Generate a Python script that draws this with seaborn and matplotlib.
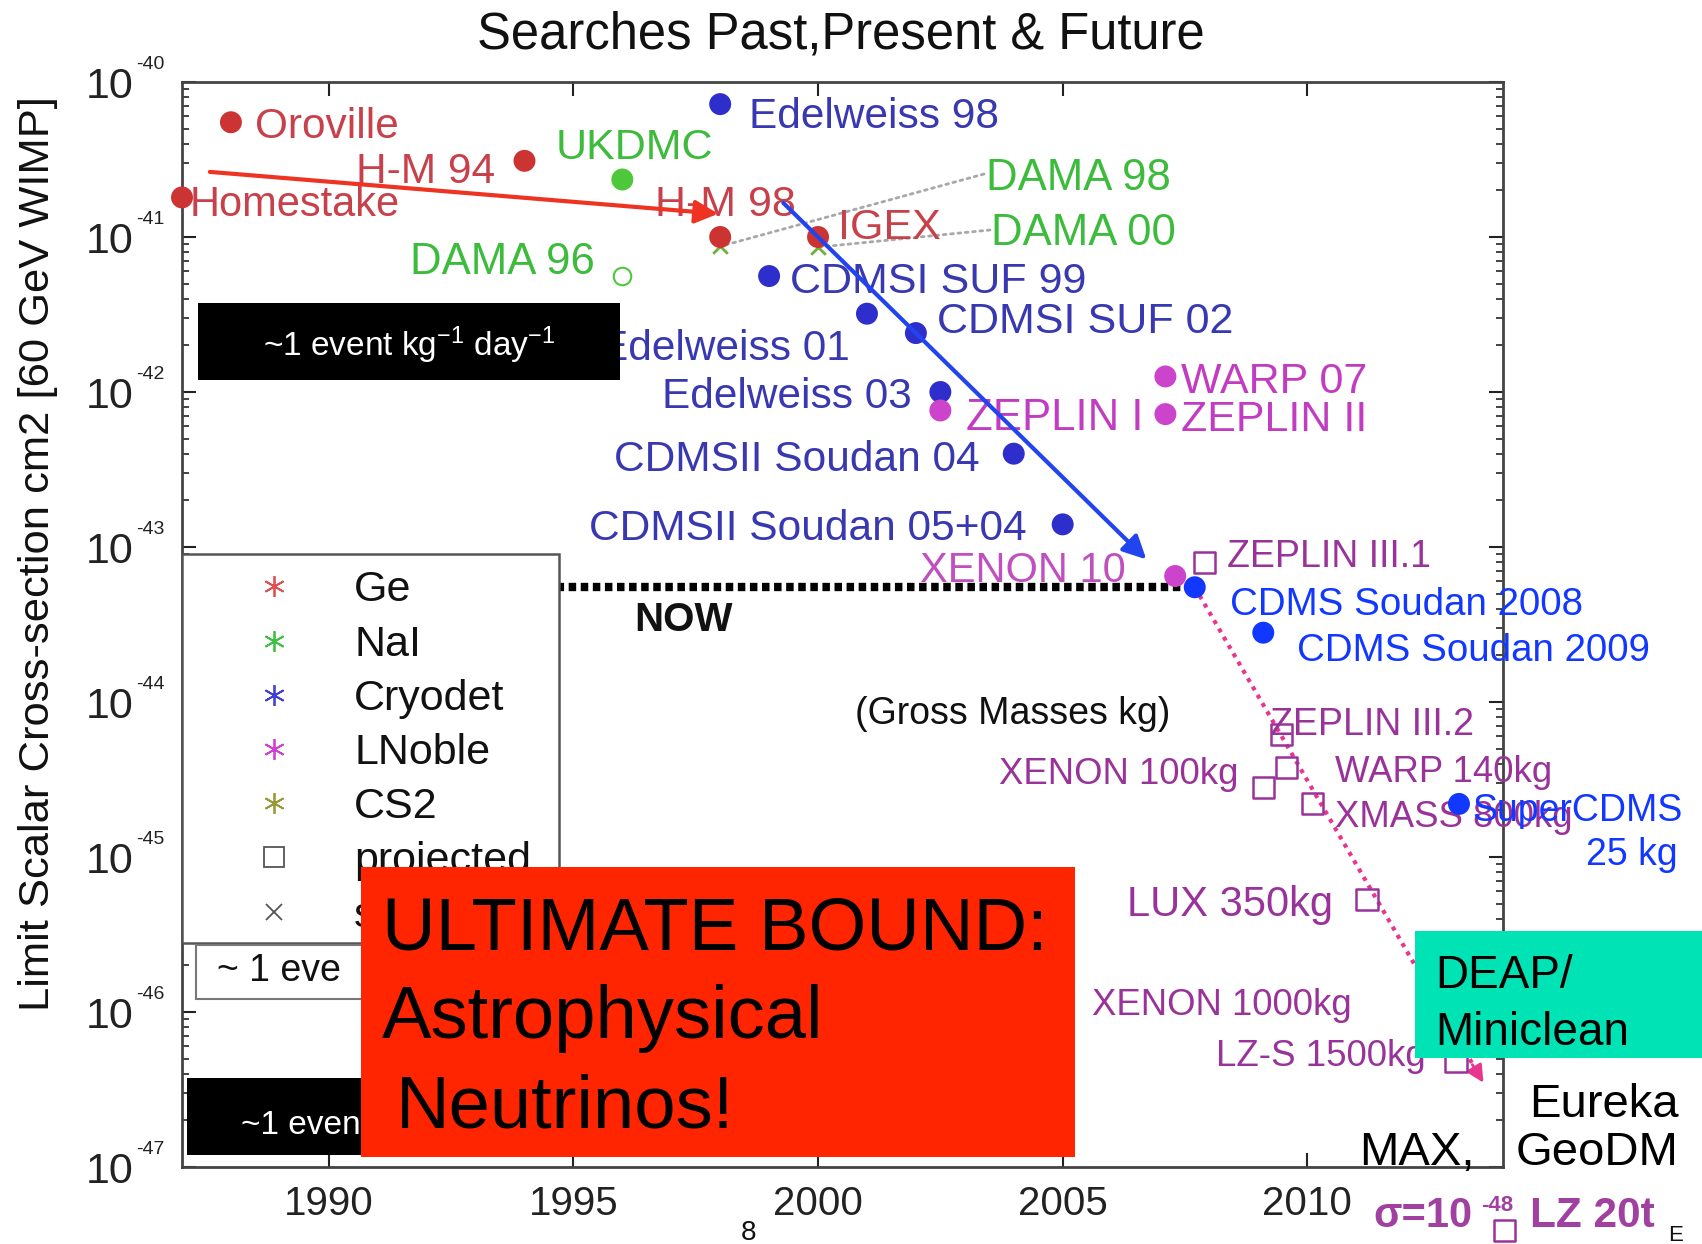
import numpy as np
import pandas as pd
import matplotlib
matplotlib.use("Agg")
import matplotlib.pyplot as plt
import matplotlib.transforms as mtransforms
import matplotlib.ticker as mticker
from matplotlib.patches import Rectangle
from matplotlib.lines import Line2D
import seaborn as sns

# ---------------- data ----------------
exp_names = ["Homestake", "Oroville", "H-M 94", "UKDMC", "H-M 98", "IGEX",
             "Edelweiss 98", "CDMSI SUF 99", "Edelweiss 01", "CDMSI SUF 02",
             "Edelweiss 03", "ZEPLIN I", "WARP 07", "ZEPLIN II",
             "CDMSII Soudan 04", "CDMSII Soudan 05+04", "XENON 10",
             "CDMS Soudan 2008", "CDMS Soudan 2009", "SuperCDMS 25 kg"]
exp_years = [1987.0, 1988.0, 1994.0, 1996.0, 1998.0, 2000.0,
             1998.0, 1999.0, 2001.0, 2002.0,
             2002.5, 2002.5, 2007.1, 2007.1,
             2004.0, 2005.0, 2007.3,
             2007.7, 2009.1, 2013.1]
exp_sigma = [1.8e-41, 5.5e-41, 3.1e-41, 2.35e-41, 1.0e-41, 1.0e-41,
             7.2e-41, 5.6e-42, 3.2e-42, 2.4e-42,
             1.0e-42, 7.6e-43, 1.26e-42, 7.2e-43,
             4.0e-43, 1.4e-43, 6.5e-44,
             5.5e-44, 2.8e-44, 2.2e-45]
exp_family = ["Ge", "Ge", "Ge", "NaI", "Ge", "Ge",
              "Cryodet", "Cryodet", "Cryodet", "Cryodet",
              "Cryodet", "LNoble", "LNoble", "LNoble",
              "Cryodet", "Cryodet", "LNoble",
              "CryodetNew", "CryodetNew", "CryodetNew"]

dama96_years = [1996.0]
dama96_sigma = [5.6e-42]

signal_years = [1998.0, 2000.0]
signal_sigma = [8.7e-42, 8.6e-42]

proj_names = ["ZEPLIN III.1", "ZEPLIN III.2", "WARP 140kg", "XENON 100kg",
              "XMASS 800kg", "LUX 350kg", "XENON 1000kg", "LZ-S 1500kg", "LZ 20t"]
proj_years = [2007.9, 2009.47, 2009.57, 2009.1, 2010.1, 2011.22, 2012.78, 2013.04, 2014.04]
proj_sigma = [7.9e-44, 6.2e-45, 3.8e-45, 2.8e-45, 2.2e-45, 5.3e-46, 1.1e-46, 4.8e-47, 3.9e-48]

# end of the projected-trend arrow
trend_end_year = 2013.6
trend_end_sigma = 3.5e-47

x_ticks = [1990, 1995, 2000, 2005, 2010]
y_decades = [-40, -41, -42, -43, -44, -45, -46, -47]

legend_labels = ["Ge", "NaI", "Cryodet", "LNoble", "CS2", "projected", "signal"]

# ---------------- styling ----------------
sns.set_theme(style="white")
plt.rcParams["font.family"] = ["Liberation Sans", "DejaVu Sans"]
plt.rcParams["mathtext.fontset"] = "custom"
plt.rcParams["mathtext.rm"] = "Liberation Sans"
plt.rcParams["mathtext.it"] = "Liberation Sans:italic"
plt.rcParams["mathtext.bf"] = "Liberation Sans:bold"

fam_colors = {"Ge": "#CC3333", "NaI": "#4DC83A", "Cryodet": "#2E2ECC",
              "CryodetNew": "#1238FF", "LNoble": "#CC44CC"}
RED_T, GREEN_T, BLUE_T = "#C8404A", "#3DBB3D", "#3838B0"
BBLUE_T, MAG_T, PURP_T = "#1238FF", "#C23CC2", "#993399"

W, H = 1702, 1244
fig = plt.figure(figsize=(W / 100, H / 100), dpi=100)
fig.patch.set_facecolor("white")
L, R, T, B = 182, 1503, 82, 1167
ax = fig.add_axes([L / W, 1 - B / H, (R - L) / W, (B - T) / H])
ax.set_yscale("log")
ax.set_xlim(1987.0, 2014.0)
ax.set_ylim(1e-47, 1e-40)

# ---------------- marks ----------------
df = pd.DataFrame({"name": exp_names, "year": exp_years,
                   "sigma": exp_sigma, "family": exp_family})
sns.scatterplot(data=df, x="year", y="sigma", hue="family", palette=fam_colors,
                s=250, edgecolor="none", legend=False, ax=ax, zorder=4, clip_on=False)
sns.scatterplot(x=dama96_years, y=dama96_sigma, marker="o", s=160,
                facecolor="white", edgecolor=fam_colors["NaI"], linewidth=1.5,
                ax=ax, zorder=4, legend=False)
sns.scatterplot(x=signal_years, y=signal_sigma, marker="x", s=110,
                color="#6FAF3A", linewidth=2, ax=ax, zorder=3.5, legend=False)
pdf = pd.DataFrame({"name": proj_names, "year": proj_years, "sigma": proj_sigma})
sns.scatterplot(data=pdf, x="year", y="sigma", marker="s", s=230,
                facecolor="none", edgecolor=PURP_T, linewidth=1.8,
                ax=ax, zorder=4, legend=False, clip_on=False)

# NOW line (level of the CDMS Soudan 2008 limit)
i08 = exp_names.index("CDMS Soudan 2008")
ax.plot([1987.0, exp_years[i08]], [exp_sigma[i08]] * 2, color="black", lw=6,
        linestyle=(0, (0.9, 0.55)), zorder=3)

# trend arrows
ax.annotate("", xy=(1997.96, 10 ** -40.85), xytext=(1987.57, 10 ** -40.58),
            arrowprops=dict(arrowstyle="-|>", color="#EE3322", lw=3,
                            mutation_scale=35, shrinkA=0, shrinkB=0), zorder=6)
ax.annotate("", xy=(2006.71, 10 ** -43.08), xytext=(1999.29, 10 ** -40.78),
            arrowprops=dict(arrowstyle="-|>", color="#2244EE", lw=3,
                            mutation_scale=35, shrinkA=0, shrinkB=0), zorder=6)
# projected trend: dotted line + solid head
ax.plot([exp_years[i08], trend_end_year], [exp_sigma[i08], trend_end_sigma],
        color="#E8358F", lw=3, linestyle=(0, (1, 1.3)), zorder=3)
ax.annotate("", xy=(trend_end_year, trend_end_sigma), xycoords="data",
            xytext=(-8, 13), textcoords="offset points",
            arrowprops=dict(arrowstyle="-|>", color="#E8358F", lw=2,
                            mutation_scale=26, shrinkA=0, shrinkB=0), zorder=3)
# dotted leaders to DAMA labels
ax.annotate("", xy=(signal_years[0], signal_sigma[0]), xycoords="data",
            xytext=(984 / W, 1 - 174 / H), textcoords="figure fraction",
            arrowprops=dict(arrowstyle="-", linestyle=":", color="#A8A8A8", lw=2,
                            shrinkA=0, shrinkB=0), zorder=2)
ax.annotate("", xy=(signal_years[1], signal_sigma[1]), xycoords="data",
            xytext=(990 / W, 1 - 230 / H), textcoords="figure fraction",
            arrowprops=dict(arrowstyle="-", linestyle=":", color="#A8A8A8", lw=2,
                            shrinkA=0, shrinkB=0), zorder=2)

# ---------------- axes styling ----------------
ax.set_xlabel("")
ax.set_ylabel("")
ax.set_xticks(x_ticks)
ax.set_xticklabels([str(t) for t in x_ticks], fontsize=29)
ax.set_yticks([10.0 ** d for d in y_decades])
ax.set_yticklabels(["10"] * len(y_decades), fontsize=31)
ax.yaxis.set_minor_locator(mticker.LogLocator(base=10, subs=np.arange(2, 10)))
ax.yaxis.set_minor_formatter(mticker.NullFormatter())
ax.tick_params(axis="both", which="major", direction="in", length=10, width=1.5,
               colors="#222222", top=True, right=True, bottom=True, left=True)
ax.tick_params(axis="y", which="minor", direction="in", length=5, width=1.2,
               left=True, right=True, colors="#222222")
ax.tick_params(axis="y", which="major", pad=35)
ax.tick_params(axis="x", which="major", pad=13)
for sp in ax.spines.values():
    sp.set_color("#444444")
    sp.set_linewidth(2)

blend = mtransforms.blended_transform_factory(ax.transAxes, ax.transData)
for d in y_decades:
    tr = mtransforms.offset_copy(blend, fig=fig, x=-46, y=18, units="dots")
    ax.text(0, 10.0 ** d, str(d), transform=tr, fontsize=14, ha="left",
            va="center", color="#222222", clip_on=False)


# ---------------- helpers ----------------
def rect(x0, y0, x1, y1, z, fc, ec="none", lw=0, owner=None):
    r = Rectangle((x0 / W, 1 - y1 / H), (x1 - x0) / W, (y1 - y0) / H,
                  transform=fig.transFigure, facecolor=fc, edgecolor=ec,
                  linewidth=lw, zorder=z, clip_on=False)
    if owner is None:
        fig.add_artist(r)
    else:
        owner.add_patch(r)


def put(txt, x, cy, color, size, ha="left", weight="normal", owner="ax", z=3,
        rotation=0):
    base = cy + 0.358 * size / 0.72
    kw = dict(color=color, fontsize=size, ha=ha, va="baseline",
              fontweight=weight, zorder=z, rotation=rotation)
    if owner == "ax":
        ax.text(x / W, 1 - base / H, txt, transform=fig.transFigure,
                clip_on=False, **kw)
    else:
        fig.text(x / W, 1 - base / H, txt, **kw)


# ---------------- point labels ----------------
labels = [
    ("Oroville", 255, 123, RED_T, 30.5), ("H-M 94", 356, 168, RED_T, 30.5),
    ("Homestake", 190, 201, RED_T, 30), ("UKDMC", 556, 144, GREEN_T, 31),
    ("H-M 98", 655, 201, RED_T, 31), ("IGEX", 838, 224, RED_T, 31),
    ("DAMA 96", 410, 258, GREEN_T, 31.5), ("Edelweiss 98", 749, 113, BLUE_T, 30.5),
    ("DAMA 98", 986, 174, GREEN_T, 31.5), ("DAMA 00", 991, 229, GREEN_T, 31.5),
    ("CDMSI SUF 99", 790, 278, BLUE_T, 31), ("CDMSI SUF 02", 937, 318, BLUE_T, 31),
    ("Edelweiss 01", 600, 345, BLUE_T, 30.5), ("Edelweiss 03", 662, 393, BLUE_T, 30.5),
    ("ZEPLIN I", 966, 414, MAG_T, 31.5), ("WARP 07", 1181, 378, MAG_T, 31),
    ("ZEPLIN II", 1181, 416, MAG_T, 31),
    ("CDMSII Soudan 04", 614, 456, BLUE_T, 30.6),
    ("CDMSII Soudan 05+04", 589, 525, BLUE_T, 30.6),
    ("XENON 10", 920, 567, "#C050C0", 30),
    ("ZEPLIN III.1", 1227, 554, PURP_T, 27),
    ("CDMS Soudan 2008", 1230, 601, BBLUE_T, 27.7),
    ("CDMS Soudan 2009", 1297, 647, BBLUE_T, 27.7),
    ("(Gross Masses kg)", 855, 711, "#111111", 27),
    ("ZEPLIN III.2", 1270, 722, PURP_T, 27),
    ("XENON 100kg", 999, 771, PURP_T, 26.3),
    ("WARP 140kg", 1335, 769, PURP_T, 26.3),
    ("XMASS 800kg", 1335, 814, PURP_T, 26.3),
    ("SuperCDMS", 1472, 808, BBLUE_T, 27),
    ("LUX 350kg", 1127, 901, PURP_T, 30),
    ("XENON 1000kg", 1092, 1002, PURP_T, 26.3),
    ("LZ-S 1500kg", 1216, 1053, PURP_T, 26.5),
]
for txt, x, cy, c, s in labels:
    put(txt, x, cy, c, s)
put("25 kg", 1678, 852, BBLUE_T, 27, ha="right")
put("NOW", 634, 617, "#111111", 29, weight="bold")

# ---------------- legend ----------------
leg_colors = ["#E05050", "#40C040", "#4040D0", "#D040D0", "#99993A"]
handles = [Line2D([], [], ls="none", marker=(6, 2, 0), ms=15, mew=1.3,
                  color=c, mec=c) for c in leg_colors]
handles.append(Line2D([], [], ls="none", marker="s", ms=14, mfc="none",
                      mec="#555555", mew=1.3))
handles.append(Line2D([], [], ls="none", marker="x", ms=12, color="#555555",
                      mew=1.3))
rect(182, 554, 559, 943, 4, "white", ec="#555555", lw=1.8, owner=ax)
leg = ax.legend(handles, legend_labels, loc="upper left",
                bbox_to_anchor=(182 / W, 1 - 554 / H), bbox_transform=fig.transFigure,
                borderaxespad=0, borderpad=0.38, labelspacing=0.33,
                handlelength=3.5, handletextpad=0.12, frameon=False,
                fontsize=31)
leg.set_zorder(5)
for t in leg.get_texts():
    t.set_color("#111111")

# ---------------- overlay boxes ----------------
rect(198, 303, 620, 380, 1.2, "black")
fig.text(409 / W, 1 - 345 / H, r"~1 event kg$^{-1}$ day$^{-1}$", color="white",
         fontsize=24, ha="center", va="center", zorder=1.5)
rect(196, 945, 420, 999, 1.2, "white", ec="#777777", lw=1.5)
put("~ 1 eve", 217, 968, "#111111", 27, owner="fig", z=1.5)
rect(187, 1078, 420, 1155, 1.2, "black")
put("~1 even", 241, 1122, "white", 24, owner="fig", z=1.5)

rect(361, 867, 1075, 1157, 2, "#FF2500")
fig.text(382 / W, 1 - 950 / H, "ULTIMATE BOUND:", fontsize=53.5, color="black",
         va="baseline", zorder=3)
fig.text(382 / W, 1 - 1038 / H, "Astrophysical", fontsize=53.5, color="black",
         va="baseline", zorder=3)
fig.text(396 / W, 1 - 1128 / H, "Neutrinos!", fontsize=53.5, color="black",
         va="baseline", zorder=3)

rect(1415, 931, 1702, 1058, 2, "#00E3B5")
fig.text(1435 / W, 1 - 988 / H, "DEAP/", fontsize=33, color="black",
         va="baseline", zorder=3)
fig.text(1435 / W, 1 - 1045 / H, "Miniclean", fontsize=33, color="black",
         va="baseline", zorder=3)

fig.text(1679 / W, 1 - 1117 / H, "Eureka", fontsize=34, color="black",
         ha="right", va="baseline", zorder=3)
fig.text(1679 / W, 1 - 1165 / H, "GeoDM", fontsize=34, color="black",
         ha="right", va="baseline", zorder=3)
fig.text(1359 / W, 1 - 1165 / H, "MAX,", fontsize=34, color="black",
         va="baseline", zorder=3)

put("σ=10", 1373, 1212, "#A040A0", 30, weight="bold", owner="fig")
put("-48", 1481, 1203, "#A040A0", 16, weight="bold", owner="fig")
put("LZ 20t", 1530, 1212, "#A040A0", 30.5, weight="bold", owner="fig")
put("E", 1668, 1233, "#111111", 16, owner="fig")
put("8", 741, 1230, "#111111", 20, owner="fig")

# ---------------- title and axis label ----------------
put("Searches Past,Present & Future", 841, 30, "#111111", 36.5, ha="center", owner="fig")
fig.text(38 / W, 1 - 554 / H, "Limit Scalar Cross-section cm2 [60 GeV WIMP]",
         fontsize=31.3, color="#111111", rotation=90, ha="center", va="center")

fig.savefig("out.png", dpi=100)
